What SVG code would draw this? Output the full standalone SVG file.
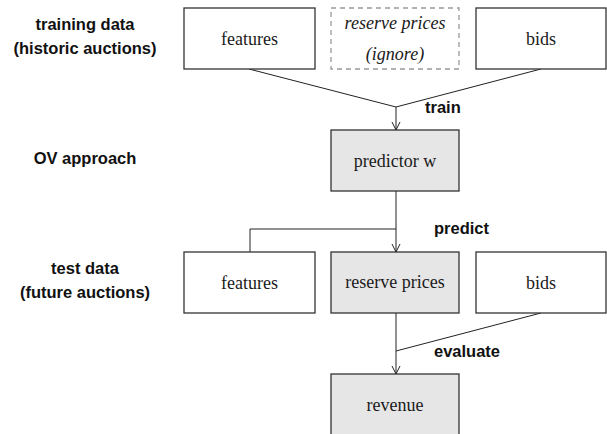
<svg xmlns="http://www.w3.org/2000/svg" width="607" height="434" viewBox="0 0 607 434">
<style>
.box{fill:#ffffff;stroke:#333333;stroke-width:1.3}
.gray{fill:#e6e6e6;stroke:#333333;stroke-width:1.3}
.dash{fill:#ffffff;stroke:#999999;stroke-width:1.3;stroke-dasharray:5,4}
.nt{font-family:"Liberation Serif","Times New Roman",serif;font-size:18px;fill:#1a1a1a;text-anchor:middle}
.it{font-style:italic}
.lb{font-family:"Liberation Sans",Arial,sans-serif;font-weight:bold;font-size:16.5px;fill:#111111}
.side{text-anchor:middle}
.conn{fill:none;stroke:#222222;stroke-width:1}
</style>
<defs>
<marker id="arr" viewBox="0 0 10 10" refX="9" refY="5" markerWidth="10" markerHeight="10" markerUnits="userSpaceOnUse" orient="auto">
<path d="M1,1 L9,5 L1,9" fill="none" stroke="#222222" stroke-width="1"/>
</marker>
</defs>
<rect width="607" height="434" fill="#ffffff"/>
<g id="side-labels">
<text class="lb side" x="85" y="30">training data</text>
<text class="lb side" x="85" y="54">(historic auctions)</text>
<text class="lb side" x="85" y="164">OV approach</text>
<text class="lb side" x="85" y="274">test data</text>
<text class="lb side" x="85" y="298">(future auctions)</text>
</g>
<g id="connectors">
<polyline class="conn" points="249,69 396,107 541,69"/>
<line class="conn" x1="396" y1="107" x2="396" y2="130" marker-end="url(#arr)"/>
<line class="conn" x1="396" y1="191" x2="396" y2="252" marker-end="url(#arr)"/>
<polyline class="conn" points="396,229 250,229 250,252"/>
<line class="conn" x1="396" y1="313" x2="396" y2="374" marker-end="url(#arr)"/>
<line class="conn" x1="541" y1="313" x2="396" y2="351"/>
<text class="lb" x="425" y="113">train</text>
<text class="lb" x="434" y="234">predict</text>
<text class="lb" x="434" y="357">evaluate</text>
</g>
<g id="train-features"><rect class="box" x="184" y="8" width="131" height="61"/><text class="nt" x="249.5" y="45">features</text></g>
<g id="train-reserve"><rect class="dash" x="331" y="8" width="128" height="61"/><text class="nt it" x="395" y="29">reserve prices</text><text class="nt it" x="395" y="60">(ignore)</text></g>
<g id="train-bids"><rect class="box" x="476" y="8" width="130" height="61"/><text class="nt" x="541" y="45">bids</text></g>
<g id="predictor"><rect class="gray" x="331" y="130" width="128" height="61"/><text class="nt" x="395" y="167">predictor w</text></g>
<g id="test-features"><rect class="box" x="184" y="252" width="131" height="61"/><text class="nt" x="249.5" y="289">features</text></g>
<g id="test-reserve"><rect class="gray" x="331" y="252" width="128" height="61"/><text class="nt" x="395" y="288">reserve prices</text></g>
<g id="test-bids"><rect class="box" x="476" y="252" width="130" height="61"/><text class="nt" x="541" y="289">bids</text></g>
<g id="revenue"><rect class="gray" x="331" y="374" width="128" height="64"/><text class="nt" x="395" y="411">revenue</text></g>
</svg>
